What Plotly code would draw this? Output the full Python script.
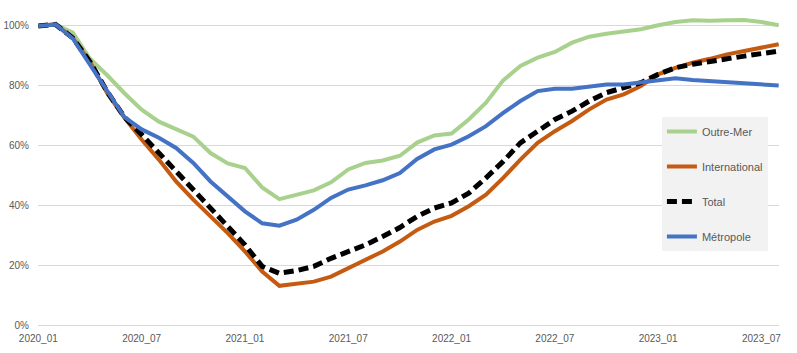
import plotly.graph_objects as go

months = [f"{y}_{m:02d}" for y in range(2020, 2024) for m in range(1, 13)][:44]

tick_labels = ["2020_01", "2020_07", "2021_01", "2021_07", "2022_01", "2022_07", "2023_01", "2023_07"]

outre_mer = [100, 100.5, 97.8, 89, 83.5, 77.5, 72, 68, 65.5, 63, 57.5, 54, 52.5, 46,
             42.1, 43.6, 45, 47.7, 52, 54.2, 55, 56.6, 61, 63.4, 64, 68.7, 74.3, 81.8, 86.6,
             89.4, 91.3, 94.4, 96.4, 97.4, 98.1, 98.9, 100.2, 101.3, 101.9, 101.7, 101.9, 102, 101.3, 100.2]

international = [100, 100.5, 96, 88, 77.5, 69.3, 62, 55.3, 48, 41.9, 36.3, 30.7, 24.6, 17.9,
                 13.1, 13.7, 14.5, 16.2, 19, 21.8, 24.6, 27.9, 31.8, 34.6, 36.5, 39.7, 43.6, 49.2, 55.3,
                 60.9, 64.8, 68.2, 72.1, 75.4, 77.1, 79.9, 83.8, 86, 87.7, 89, 90.5, 91.6, 92.7, 93.9]

total = [100, 100.5, 96, 88, 78, 69.5, 63.7, 57.5, 51.4, 45.3, 39.1, 33, 26.8, 19.6,
         17.3, 18.2, 19.6, 22.3, 24.6, 26.8, 29.6, 32.6, 36.3, 39.1, 40.8, 44.1, 49.2, 54.7, 60.9,
         64.8, 68.7, 71.5, 74.9, 77.7, 79.3, 81, 83.8, 86, 87.2, 88.3, 89, 89.9, 90.7, 91.6]

metropole = [100, 100.5, 95.8, 87, 78.5, 69.5, 65.4, 62.6, 59.2, 54.2, 48, 43, 38, 34,
             33.2, 35.2, 38.5, 42.5, 45.3, 46.7, 48.4, 50.8, 55.5, 58.7, 60.3, 63.1, 66.5, 70.9, 74.9,
             78.2, 79, 79, 79.7, 80.4, 80.4, 81, 81.9, 82.5, 81.9, 81.6, 81.2, 80.8, 80.4, 80.1]

series = [
    ("Outre-Mer", outre_mer, "#A9D18E", "solid", 4, 1),
    ("International", international, "#C55A11", "solid", 4, 2),
    ("Total", total, "#000000", "10px,5px", 5, 3),
    ("Métropole", metropole, "#4472C4", "solid", 4, 4),
]

fig = go.Figure()
for name, vals, color, dash, width, rank in series:
    fig.add_trace(go.Scatter(
        x=months, y=[v / 100 for v in vals], name=name, mode="lines",
        line=dict(color=color, width=width, dash=dash),
        legendgroup=name, legendrank=rank,
    ))

fig.update_layout(
    width=797, height=353,
    margin=dict(l=38, r=18, t=2, b=28),
    paper_bgcolor="white", plot_bgcolor="white",
    font=dict(family="Liberation Sans, Arial, sans-serif", size=10, color="#595959"),
    showlegend=True,
    legend=dict(
        x=0.842, y=0.644, xanchor="left", yanchor="top",
        bgcolor="#F2F2F2", borderwidth=0,
        font=dict(size=11, color="#595959"),
        tracegroupgap=16, traceorder="grouped",
    ),
    xaxis=dict(
        type="category", categoryorder="array", categoryarray=months,
        range=[-0.02, 43.02],
        tickmode="array", tickvals=tick_labels, ticktext=tick_labels,
        showgrid=False, showline=False, zeroline=False, ticks="",
        ticklabelstandoff=6,
    ),
    yaxis=dict(
        range=[0, 1.08],
        tickmode="array", tickvals=[0, 0.2, 0.4, 0.6, 0.8, 1.0],
        tickformat=".0%",
        showgrid=True, gridcolor="#D9D9D9", gridwidth=1,
        zeroline=True, zerolinecolor="#D9D9D9", zerolinewidth=1,
        showline=False, ticks="",
        ticklabelstandoff=8,
    ),
)

fig.write_html("out.html")
